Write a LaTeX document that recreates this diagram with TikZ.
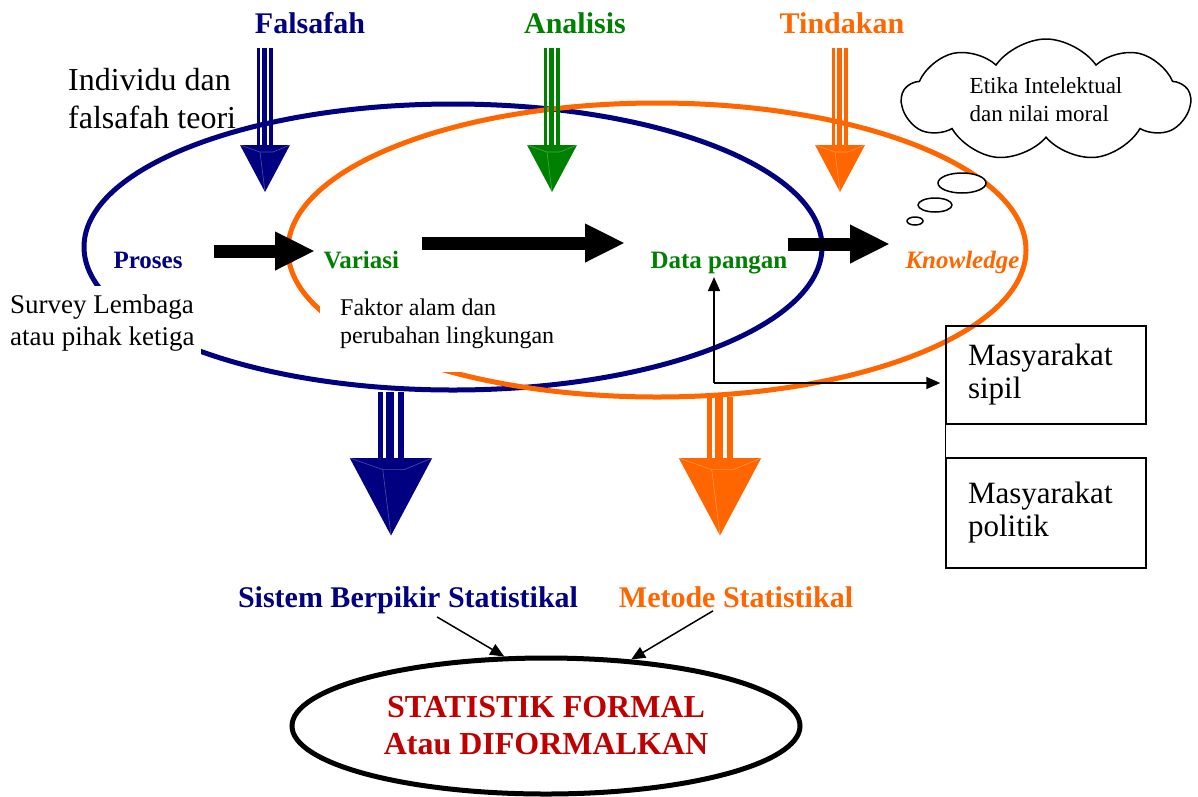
\documentclass[tikz,border=0pt]{standalone}
\usepackage{fontspec}
\setmainfont{Liberation Serif}
\usetikzlibrary{arrows.meta, shapes.geometric, shapes.symbols}

\begin{document}
\begin{tikzpicture}[x=1pt, y=-1pt,
    topLabel/.style={anchor=base, font=\fontsize{30}{36}\selectfont\bfseries},
    stepLabel/.style={anchor=base west, font=\fontsize{25}{30}\selectfont\bfseries},
    noteText/.style={anchor=base west, align=left, inner sep=0pt},
    blockArrow/.style={line width=13pt, -{Triangle[length=40pt, width=36pt]}},
    thinArrow/.style={line width=1.6pt, -{Triangle[length=14pt, width=12pt]}},
    groupBox/.style={draw, line width=1.5pt, minimum width=200pt, inner xsep=22pt, text width=156pt, align=left, font=\fontsize{31}{33}\selectfont}]

    \definecolor{navyBlue}{HTML}{000080}
    \definecolor{leafGreen}{HTML}{008000}
    \definecolor{fireOrange}{HTML}{FF6600}
    \definecolor{deepRed}{HTML}{C00000}

    % Fix the page size
    \useasboundingbox (0,0) rectangle (1198,796);

    % Draw the two big ellipses
    \draw[navyBlue, line width=5pt] (453,247) ellipse [x radius=369, y radius=143];
    \draw[fireOrange, line width=5pt] (657,250) ellipse [x radius=369, y radius=147];

    % Draw the triple-line arrows (centre x, shaft top, head top, scale, colour)
    \foreach \ax/\ay/\ah/\s/\col in {265/48/145/1/navyBlue, 552/48/145/1/leafGreen, 840/48/145/1/fireOrange, 391/392/458/1.65/navyBlue, 720/397/458/1.65/fireOrange} {
        \fill[\col] (\ax-8*\s,\ay) rectangle (\ax-5*\s,\ah+2);
        \fill[\col] (\ax-3*\s,\ay) rectangle (\ax+2*\s,\ah+2);
        \fill[\col] (\ax+4*\s,\ay) rectangle (\ax+8*\s,\ah+2);
        \fill[\col] (\ax-25*\s,\ah) -- (\ax+25*\s,\ah) -- (\ax,\ah+47*\s) -- cycle;
        % faint facets of the head
        \draw[white, opacity=0.3, line width=0.6pt] (\ax-25*\s,\ah) -- (\ax-5*\s,\ah+7*\s) -- (\ax+8*\s,\ah+7*\s) -- (\ax+25*\s,\ah)
            (\ax-5*\s,\ah+7*\s) -- (\ax,\ah+47*\s);
    }

    % Labels on top
    \node[topLabel, navyBlue] (falsafah) at (310,33) {Falsafah};
    \node[topLabel, leafGreen] (analisis) at (575,33) {Analisis};
    \node[topLabel, fireOrange] (tindakan) at (842,33) {Tindakan};

    % Notes (base is the last line), the filled ones hide parts of the ellipses
    \node[noteText, font=\fontsize{32}{38}\selectfont] (individu) at (68,128) {Individu dan\\falsafah teori};
    \node[noteText, font=\fontsize{27}{32}\selectfont, fill=white, inner xsep=6pt, inner ysep=8pt] (survey) at (4,345) {Survey Lembaga\\atau pihak ketiga};
    \node[noteText, font=\fontsize{24}{28}\selectfont, fill=white, inner xsep=20pt, inner ysep=24pt] (faktor) at (320,343) {Faktor alam dan\\perubahan lingkungan};

    % Thought cloud
    \draw[line width=1.5pt, fill=white] (962,183) ellipse [x radius=24, y radius=10];
    \draw[line width=1.5pt, fill=white] (935,205) ellipse [x radius=17, y radius=7];
    \draw[line width=1.5pt, fill=white] (915,221) ellipse [x radius=8, y radius=4];
    \node[cloud, draw, fill=white, line width=1.5pt, cloud puffs=9, cloud puff arc=110, cloud ignores aspect,
        minimum width=288pt, minimum height=122pt, align=left, font=\fontsize{23}{28}\selectfont] (etika) at (1046,100) {Etika Intelektual\\dan nilai moral};

    % Steps of the process
    \node[stepLabel, navyBlue] (proses) at (110,268) {Proses};
    \node[stepLabel, leafGreen] (variasi) at (320,268) {Variasi};
    \node[stepLabel, leafGreen] (data) at (647,268) {Data pangan};
    \node[stepLabel, fireOrange, font=\fontsize{25}{30}\selectfont\bfseries\itshape] (knowledge) at (902,268) {Knowledge};

    % Block arrows between the steps
    \coordinate (prosesOut) at (214,251);
    \coordinate (variasiIn) at (315,251);
    \coordinate (variasiOut) at (422,243);
    \coordinate (dataIn) at (625,243);
    \coordinate (dataOut) at (788,244);
    \coordinate (knowledgeIn) at (890,244);
    \draw[blockArrow] (prosesOut) -- (variasiIn);
    \draw[blockArrow] (variasiOut) -- (dataIn);
    \draw[blockArrow] (dataOut) -- (knowledgeIn);

    % Society boxes
    \node[groupBox, minimum height=98pt] (sipil) at (1046,375) {Masyarakat\\sipil};
    \node[groupBox, minimum height=110pt] (politik) at (1046,513) {Masyarakat\\politik};
    \draw[line width=1.5pt] (sipil.south west) -- (politik.north west);

    % Thin arrows from the hub
    \coordinate (hub) at (714,383);
    \draw[thinArrow] (hub) -- (hub |- data.south);
    \draw[thinArrow, shorten >=5pt] (hub) -- (hub -| sipil.west);

    % Bottom part
    \node[topLabel, navyBlue] (sistem) at (408,607) {Sistem Berpikir Statistikal};
    \node[topLabel, fireOrange] (metode) at (736,607) {Metode Statistikal};
    \node[ellipse, draw=black, line width=5pt, minimum width=508pt, minimum height=136pt, text=deepRed, align=center,
        font=\fontsize{32}{37}\selectfont\bfseries] (formal) at (546,726) {STATISTIK FORMAL\\Atau DIFORMALKAN};
    \draw[thinArrow, line width=1.5pt] ([xshift=29pt]sistem.south) -- (formal.121);
    \draw[thinArrow, line width=1.5pt] ([xshift=-23pt]metode.south) -- (formal.38);

\end{tikzpicture}
\end{document}
